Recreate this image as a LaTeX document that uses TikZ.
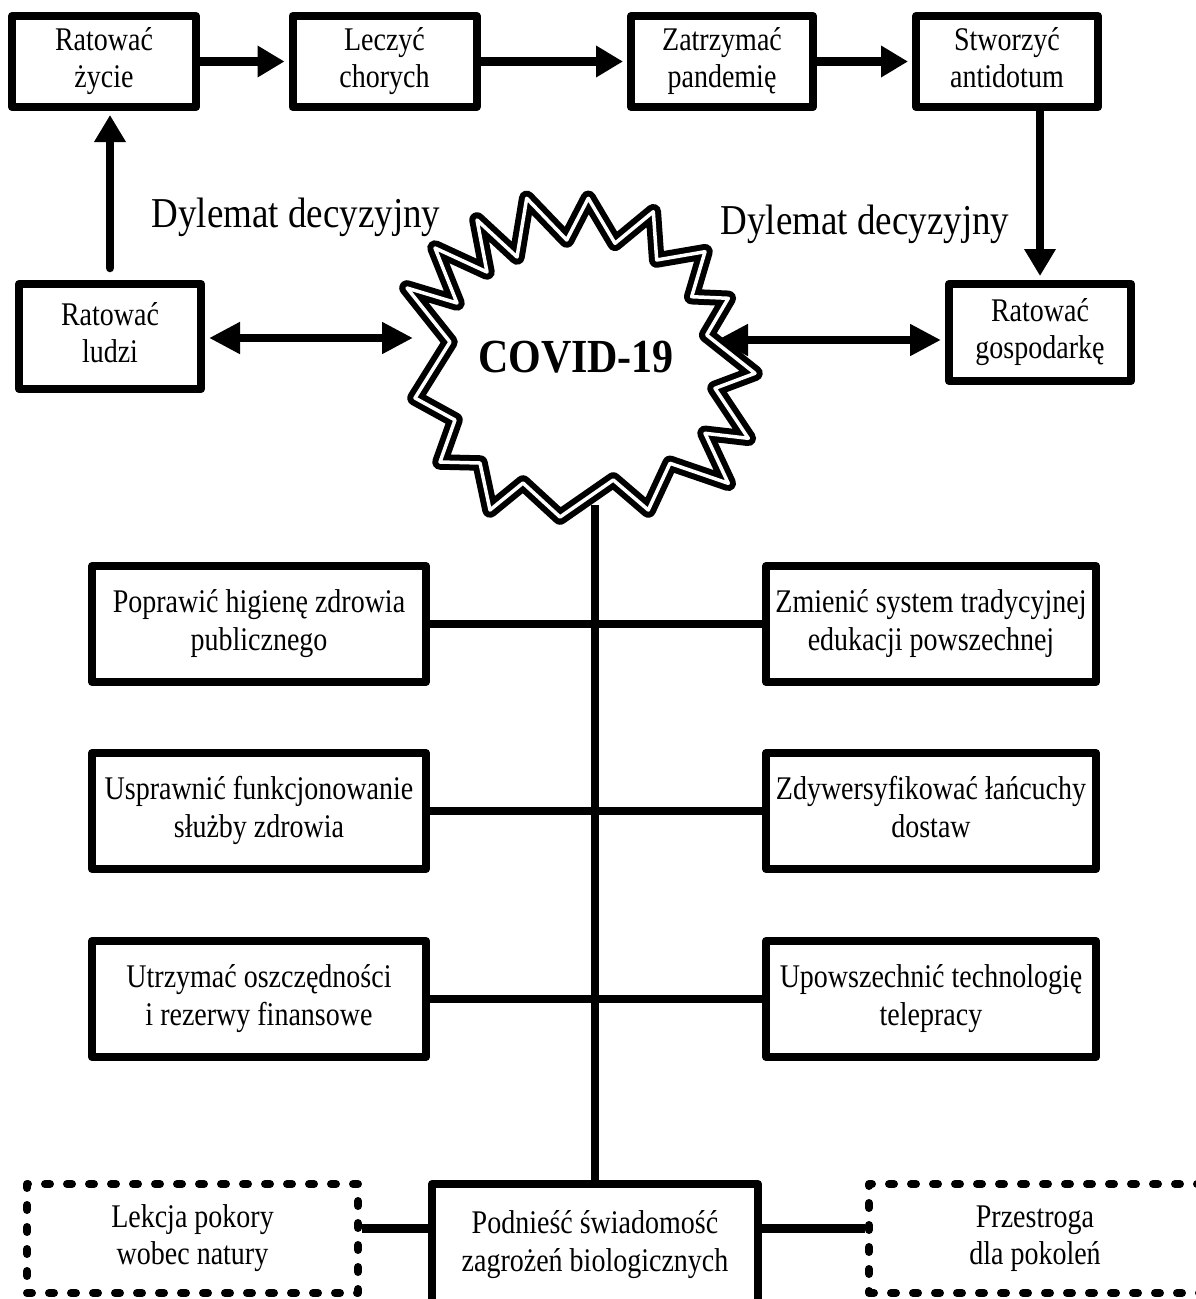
\documentclass[tikz,border=0pt]{standalone}
\usepackage{graphicx}
\usepackage{fontspec}
\setmainfont{Liberation Serif}
\usetikzlibrary{arrows.meta}

% two-line box caption, slightly stretched vertically
\newcommand\bt[1]{\scalebox{1}[1.18]{\fontsize{28}{32}\selectfont\begin{tabular}{@{}c@{}}#1\end{tabular}}}

\begin{document}
\begin{tikzpicture}[x=1pt,y=-1pt,
  box/.style={draw, line width=8pt, line join=round, rectangle, inner sep=0pt, fill=white},
  dbox/.style={box, dash pattern=on 5pt off 17pt, line cap=round},
  conn/.style={line width=8.5pt},
  arr/.style={conn, -{Triangle[length=27pt,width=30pt]}, shorten >=4pt},
  darr/.style={conn, {Triangle[length=31pt,width=30pt]}-{Triangle[length=31pt,width=30pt]}},
  lbl/.style={inner sep=0pt},
  starline/.style={draw, line width=6pt, double, double distance=3.5pt, line join=round}
]
\fill[white] (0,0) rectangle (1195,1299);
\useasboundingbox (0,0) rectangle (1195,1299);

% top chain
\node[box, minimum width=184pt, minimum height=91pt] (zycie)   at (104,61.5)  {\bt{Ratować\\życie}};
\node[box, minimum width=184pt, minimum height=91pt] (chorych) at (384.5,61.5) {\bt{Leczyć\\chorych}};
\node[box, minimum width=182pt, minimum height=91pt] (pandemia) at (722,61.5) {\bt{Zatrzymać\\pandemię}};
\node[box, minimum width=182pt, minimum height=91pt] (antidotum) at (1007,61.5) {\bt{Stworzyć\\antidotum}};

% the two sides of the dilemma
\node[box, minimum width=182pt, minimum height=105pt] (ludzi) at (110,336.5) {\bt{Ratować\\ludzi}};
\node[box, minimum width=182pt, minimum height=97pt] (gospodarka) at (1040,332.5) {\bt{Ratować\\gospodarkę}};

\node[lbl] (dyl1) at (296,217) {\scalebox{1}[1.15]{\fontsize{37}{40}\selectfont Dylemat decyzyjny}};
\node[lbl] (dyl2) at (865,224) {\scalebox{1}[1.15]{\fontsize{37}{40}\selectfont Dylemat decyzyjny}};

% jagged virus outline
\draw[starline] (526.7,198.3) -- (566.7,240) -- (588.3,198.3) -- (615,243.3) -- (653.3,211.7)
  -- (656.7,260) -- (705,251.7) -- (691.7,296.7) -- (728.3,298.3) -- (706.7,335)
  -- (755,373.3) -- (715,388.3) -- (748.3,438.3) -- (705,433.3) -- (728.3,483.3)
  -- (670,463.3) -- (648.3,510) -- (613.3,480) -- (560,517) -- (523,483)
  -- (490,510) -- (480,463) -- (440,462) -- (455,420) -- (415,398)
  -- (450,342) -- (407,288) -- (457,303) -- (435,248) -- (487,272)
  -- (477,220) -- (517,257) -- cycle;
\node[lbl] (covid) at (576,357) {\scalebox{1}[1.13]{\fontsize{42}{46}\selectfont\bfseries COVID-19}};
\coordinate (starW) at (413,338);
\coordinate (starE) at (717,340);
\coordinate (starS) at (595,505);

% middle measures
\node[box, minimum width=334pt, minimum height=116pt] (l1) at (259,624) {\bt{Poprawić higienę zdrowia\\publicznego}};
\node[box, minimum width=334pt, minimum height=116pt] (l2) at (259,811) {\bt{Usprawnić funkcjonowanie\\służby zdrowia}};
\node[box, minimum width=334pt, minimum height=116pt] (l3) at (259,999) {\bt{Utrzymać oszczędności\\i rezerwy finansowe}};
\node[box, minimum width=330pt, minimum height=116pt] (r1) at (931,624) {\bt{Zmienić system tradycyjnej\\edukacji powszechnej}};
\node[box, minimum width=330pt, minimum height=116pt] (r2) at (931,811) {\bt{Zdywersyfikować łańcuchy\\dostaw}};
\node[box, minimum width=330pt, minimum height=116pt] (r3) at (931,999) {\bt{Upowszechnić technologię\\telepracy}};

% bottom row
\node[box, minimum width=326pt, minimum height=122pt] (podniesc) at (595,1245) {\bt{Podnieść świadomość\\zagrożeń biologicznych}};
\node[dbox, minimum width=331pt, minimum height=109pt] (lekcja) at (192.5,1238.5) {\bt{Lekcja pokory\\wobec natury}};
\node[dbox, minimum width=332pt, minimum height=109pt] (przestroga) at (1035,1238.5) {\bt{Przestroga\\dla pokoleń}};

% connectors
\draw[arr] (zycie.east) -- (chorych.west);
\draw[arr] (chorych.east) -- (pandemia.west);
\draw[arr] (pandemia.east) -- (antidotum.west);
\draw[arr] (gospodarka.north |- antidotum.south) -- (gospodarka.north);
\draw[arr, line cap=round, shorten <=12pt] (ludzi.north) -- (ludzi.north |- zycie.south);
\draw[darr, shorten <=4pt] (ludzi.east |- starW) -- (starW);
\draw[darr, shorten <=4pt] (gospodarka.west |- starE) -- (starE);

\draw[conn] (starS) -- (podniesc.north);
\draw[conn] (l1.east) -- (r1.west);
\draw[conn] (l2.east) -- (r2.west);
\draw[conn] (l3.east) -- (r3.west);
\draw[conn] ([yshift=10pt]lekcja.east) -- ([yshift=10pt]lekcja.east -| podniesc.west);
\draw[conn] ([yshift=10pt]przestroga.west -| podniesc.east) -- ([yshift=10pt]przestroga.west);
\end{tikzpicture}
\end{document}
